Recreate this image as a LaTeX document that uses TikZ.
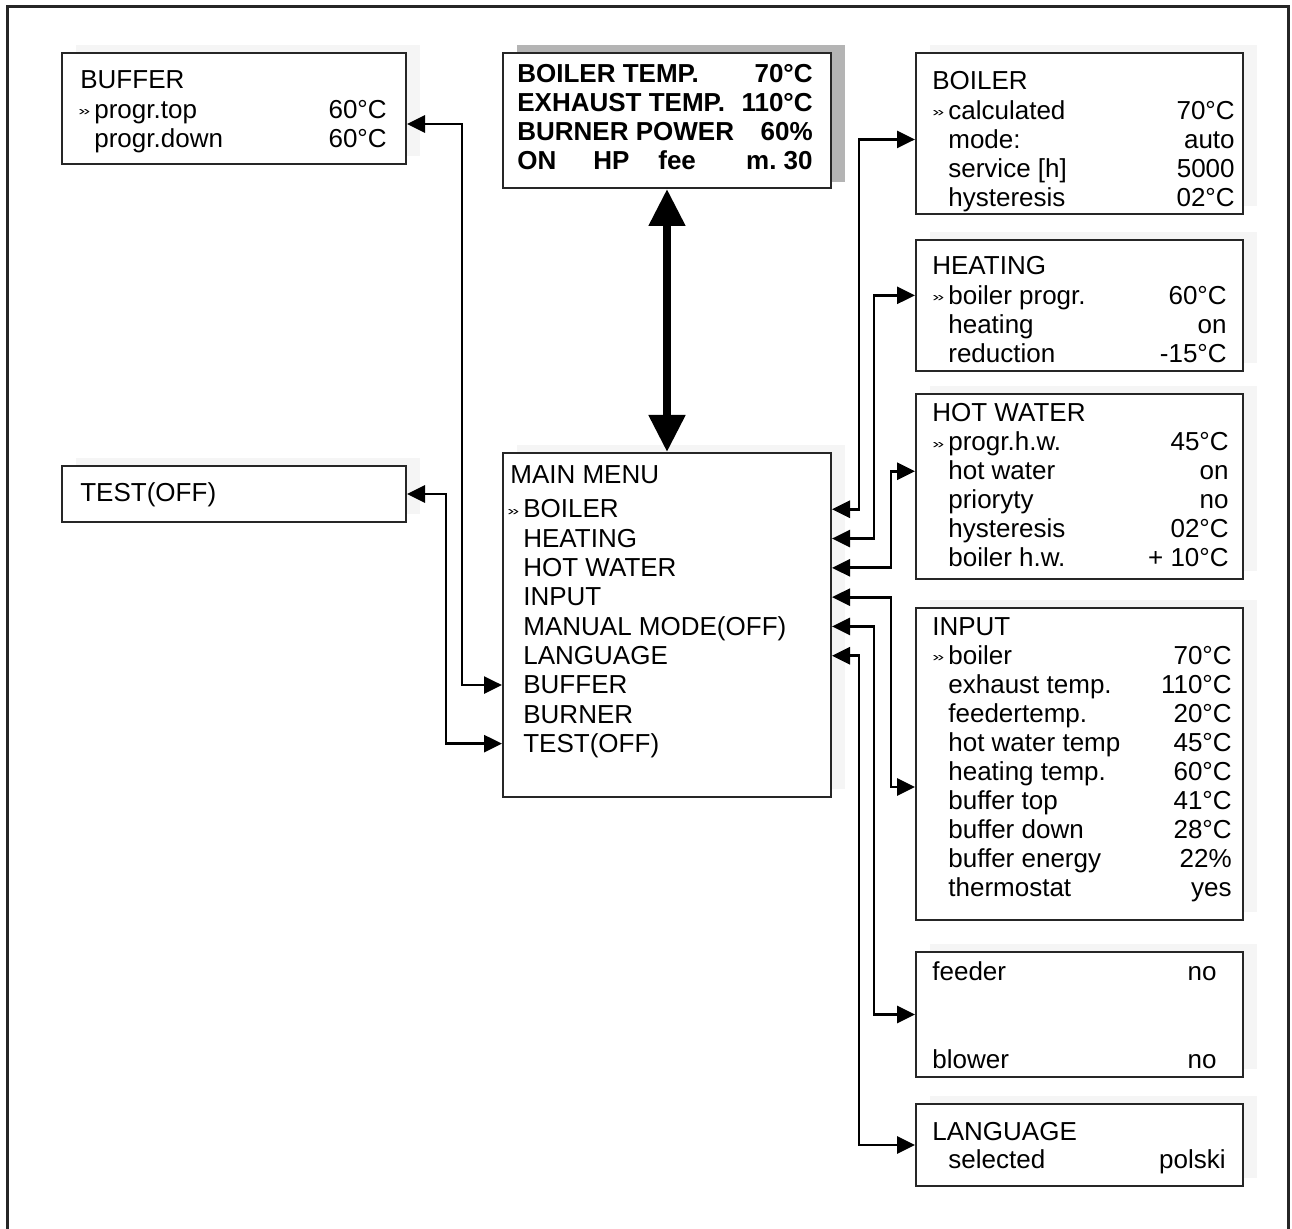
\documentclass[tikz,border=0pt]{standalone}
\usepackage{fontspec}
\setmainfont{Liberation Sans}
\usepackage{graphicx}
\usepackage{tikz}
\usetikzlibrary{arrows.meta,positioning,fit,calc}
\definecolor{shadowgray}{RGB}{180,180,180}
\definecolor{paleshade}{RGB}{245,245,245}
\newcommand{\sel}{\makebox[3.2mm][l]{\raisebox{0.5mm}{\resizebox{2.4mm}{1.2mm}{»}}}}
\newcommand{\ind}{\hspace*{3.2mm}}

\begin{document}
\begin{tikzpicture}[x=0.2mm,y=-0.2mm,
    panel/.style={draw=black!85,line width=0.4mm,fill=white,inner sep=0pt},
    txt/.style={inner sep=0pt,font=\fontsize{14.8}{17}\selectfont,text height=3.5mm,text depth=0pt},
    link/.style={line width=0.55mm,{Triangle[length=3.6mm,width=3.4mm]}-{Triangle[length=3.6mm,width=3.4mm]}},
  ]
  \useasboundingbox (0,0) rectangle (1292,1229);
  % outer frame, open at the bottom
  \draw[line width=0.6mm,black!85] (7,1229) -- (7,7) -- (1288,7) -- (1288,1229);

  % display with its dark shadow
  \fill[shadowgray] (517,45) rectangle (845,182);
  \node[panel,fit={(503,53) (831,188)}] (disp) {};

  % menu boxes with pale shadows
  \foreach \nm/\xa/\ya/\xb/\yb in {buf/62/53/406/164, test/62/466/406/522, main/503/453/831/797,
      boil/916/53/1243/214, heat/916/240/1243/371, hw/916/394/1243/579,
      inp/916/608/1243/920, feed/916/952/1243/1077, lang/916/1104/1243/1186}{
    \fill[paleshade] (\xa+14,\ya-8) rectangle (\xb+14,\yb-8);
    \node[panel,fit={(\xa,\ya) (\xb,\yb)}] (\nm) {};
  }

  % display text
  \foreach \t/\v [count=\i from 0] in {BOILER TEMP./70°C, EXHAUST TEMP./110°C, BURNER POWER/60\%}{
    \node[txt,font=\fontsize{14.8}{17}\selectfont\bfseries,anchor=base west] (d\i) at (517,83+29*\i) {\t};
    \node[txt,font=\fontsize{14.8}{17}\selectfont\bfseries,anchor=base east] (dv\i) at (813,83+29*\i) {\v};
  }
  \node[txt,font=\fontsize{14.8}{17}\selectfont\bfseries,anchor=base west] (don) at (517,170) {ON};
  \node[txt,font=\fontsize{14.8}{17}\selectfont\bfseries,anchor=base west] (dhp) at (593,170) {HP};
  \node[txt,font=\fontsize{14.8}{17}\selectfont\bfseries,anchor=base west] (dfee) at (658,170) {fee};
  \node[txt,font=\fontsize{14.8}{17}\selectfont\bfseries,anchor=base east] (dm) at (813,170) {m.\ 30};

  % main menu
  \node[txt,anchor=base west] (m0) at (510,484) {MAIN MENU};
  \foreach \t [count=\i] in {\sel BOILER, \ind HEATING, \ind HOT WATER, \ind INPUT, \ind MANUAL MODE(OFF),
      \ind LANGUAGE, \ind BUFFER, \ind BURNER, \ind TEST(OFF)}{
    \node[txt,anchor=base west] (m\i) at (507,518+29.3*\i-29.3) {\t};
  }

  % left boxes
  \node[txt,anchor=base west] (bf0) at (80,89) {BUFFER};
  \foreach \t/\v [count=\i] in {\sel progr.top/60°C, \ind progr.down/60°C}{
    \node[txt,anchor=base west] (bf\i) at (78,89+29.2*\i) {\t};
    \node[txt,anchor=base east] (bfv\i) at (387,89+29.2*\i) {\v};
  }
  \node[txt,anchor=base west] (ts0) at (80,502) {TEST(OFF)};

  % right boxes
  \node[txt,anchor=base west] (bo0) at (932,90) {BOILER};
  \foreach \t/\v [count=\i] in {\sel calculated/70°C, \ind mode:/auto, \ind service [h]/5000, \ind hysteresis/02°C}{
    \node[txt,anchor=base west] (bo\i) at (932,90+29.1*\i) {\t};
    \node[txt,anchor=base east] (bov\i) at (1235,90+29.1*\i) {\v};
  }
  \node[txt,anchor=base west] (he0) at (932,275) {HEATING};
  \foreach \t/\v [count=\i] in {\sel boiler progr./60°C, \ind heating/on, \ind reduction/-15°C}{
    \node[txt,anchor=base west] (he\i) at (932,275+29.1*\i) {\t};
    \node[txt,anchor=base east] (hev\i) at (1227,275+29.1*\i) {\v};
  }
  \node[txt,anchor=base west] (hw0) at (932,422) {HOT WATER};
  \foreach \t/\v [count=\i] in {\sel progr.h.w./45°C, \ind hot water/on, \ind prioryty/no, \ind hysteresis/02°C, \ind boiler h.w./+ 10°C}{
    \node[txt,anchor=base west] (hw\i) at (932,422+29*\i) {\t};
    \node[txt,anchor=base east] (hwv\i) at (1229,422+29*\i) {\v};
  }
  \node[txt,anchor=base west] (in0) at (932,635) {INPUT};
  \foreach \t/\v [count=\i] in {\sel boiler/70°C, \ind exhaust temp./110°C, \ind feedertemp./20°C, \ind hot water temp/45°C,
      \ind heating temp./60°C, \ind buffer top/41°C, \ind buffer down/28°C, \ind buffer energy/22\%, \ind thermostat/yes}{
    \node[txt,anchor=base west] (in\i) at (932,635+29.1*\i) {\t};
    \node[txt,anchor=base east] (inv\i) at (1232,635+29.1*\i) {\v};
  }
  \node[txt,anchor=base west] (fe1) at (932,980) {feeder};
  \node[txt,anchor=base east] (fev1) at (1217,980) {no};
  \node[txt,anchor=base west] (fe2) at (932,1068) {blower};
  \node[txt,anchor=base east] (fev2) at (1217,1068) {no};
  \node[txt,anchor=base west] (la0) at (932,1140) {LANGUAGE};
  \node[txt,anchor=base west] (la1) at (932,1168) {\ind selected};
  \node[txt,anchor=base east] (lav1) at (1226,1168) {polski};

  % connectors
  \draw[line width=1.6mm,{Triangle[length=7.4mm,width=7mm]}-{Triangle[length=7.4mm,width=7mm]}] (disp.south) -- (main.north);
  \draw[link] (main.east |- m1) -- ++(27,0) |- (boil.west |- bo2);
  \draw[link] (main.east |- m2) -- ++(42,0) |- (heat.west |- he1);
  \draw[link] (main.east |- m3) -- ++(59,0) |- (hw.west |- hw2);
  \draw[link] (main.east |- m4) -- ++(59,0) |- ($(inp.north west)+(0,180)$);
  \draw[link] (main.east |- m5) -- ++(42,0) |- (feed.west);
  \draw[link] (main.east |- m6) -- ++(27,0) |- (lang.west);
  \draw[link] (main.west |- m7) -- ++(-40,0) |- ($(buf.north east)+(0,72)$);
  \draw[link] (main.west |- m9) -- ++(-56,0) |- (test.east);
\end{tikzpicture}
\end{document}
